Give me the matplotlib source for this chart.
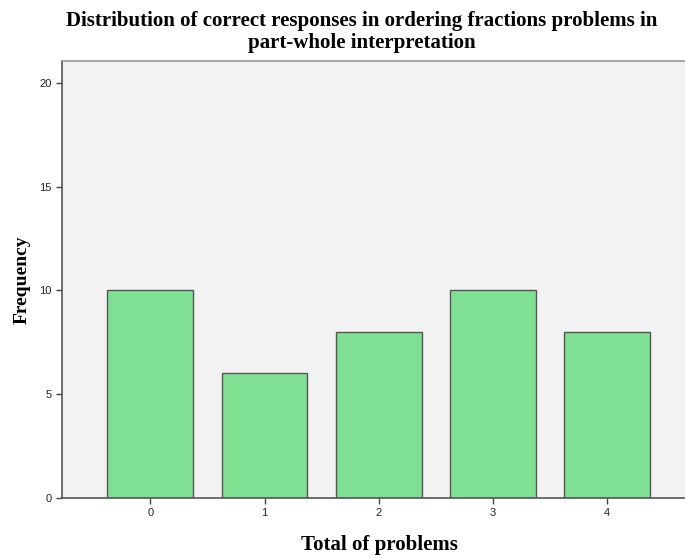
import numpy as np
import matplotlib.pyplot as plt

# Datos
categorias = [0, 1, 2, 3, 4]
frecuencias = [10, 6, 8, 10, 8]
titulo = "Distribution of correct responses in ordering fractions problems in\npart-whole interpretation"

fig = plt.figure(figsize=(6.85, 5.58), dpi=100)
ax = fig.add_axes([0.0905, 0.1075, 0.9095, 0.783])
ax.set_facecolor('#f2f2f2')

ax.bar(categorias, frecuencias, width=0.75, color='#7fe093', edgecolor='#555555', linewidth=1.0, zorder=2)

ax.set_xlim(-0.773, 4.68)
ax.set_ylim(0, 21.05)
ax.set_yticks([0, 5, 10, 15, 20])
ax.set_xticks(categorias)
ax.tick_params(axis='both', length=4, width=1, color='#444444', labelsize=8, labelcolor='#222222')
for lab in ax.get_xticklabels() + ax.get_yticklabels():
    lab.set_fontfamily('Liberation Sans')

for s in ['left', 'bottom']:
    ax.spines[s].set_color('#555555')
    ax.spines[s].set_linewidth(1.2)
ax.spines['top'].set_color('#999999')
ax.spines['top'].set_linewidth(1.2)
ax.spines['right'].set_visible(False)

fuente = dict(fontfamily='Liberation Serif', fontweight='bold', fontsize=15)
ax.set_xlabel('Total of problems', **fuente)
ax.set_ylabel('Frequency', fontfamily='Liberation Serif', fontweight='bold', fontsize=14)
ax.xaxis.set_label_coords(0.51, -0.085)
ax.yaxis.set_label_coords(-0.05, 0.5)

fig.text(0.528, 0.98, titulo, ha='center', va='top', fontfamily='Liberation Serif',
         fontweight='bold', fontsize=15, linespacing=1.15)

fig.savefig('out.png', dpi=100)
